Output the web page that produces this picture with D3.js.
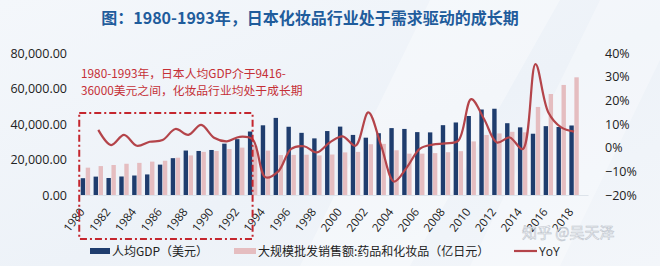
<!DOCTYPE html>
<html>
<head>
<meta charset="utf-8">
<script src="https://cdn.jsdelivr.net/npm/d3@7"></script>
<style>
  body { margin: 0; background: #fff; }
  svg { display: block; }
  text { font-family: "Noto Sans CJK SC", "Noto Sans", sans-serif; }
  .num { font-family: "Open Sans", "Noto Sans", sans-serif; }
</style>
</head>
<body>
<div id="chart"></div>
<script>
// data
var years = d3.range(1980, 2019).map(String);

// per-capita GDP, USD
var gdp = [9460, 10360, 9580, 10430, 10980, 11590, 17110, 20750, 25050, 24810,
  25360, 28930, 31470, 35770, 39270, 43440, 38440, 35020, 31900, 36030,
  38530, 33850, 32290, 34810, 37690, 37220, 35430, 35280, 39340, 40860,
  44510, 48170, 48600, 40450, 38110, 34520, 38790, 38330, 39160];

// wholesale sales: drugs & cosmetics, 100m JPY
var sales = [15400, 16300, 16900, 17600, 18100, 18800, 19300, 21000, 22300, 24300,
  24800, 25900, 26700, 27600, 25000, 22500, 22600, 22700, 22300, 22800,
  24000, 24300, 28600, 28800, 25200, 23300, 23300, 23600, 24100, 24700,
  30200, 33800, 34700, 35600, 35300, 49600, 56900, 62000, 66300];

// YoY of sales, 1981 - 2018
var yoyYears = d3.range(1981, 2019).map(String);
var yoy = [0.075, 0.011, 0.054, 0.008, 0.025, 0.032, 0.079, 0.054, 0.096, 0.042,
  0.027, 0.046, 0.035, -0.125, -0.100, -0.005, 0.006, -0.020, 0.022, 0.048,
  0.008, 0.149, 0.008, -0.143, -0.083, -0.005, 0.013, 0.018, 0.030, 0.205,
  0.121, 0.022, 0.043, -0.006, 0.353, 0.149, 0.086, 0.068];

var leftTicks = [0, 20000, 40000, 60000, 80000];
var rightTicks = [-0.2, -0.1, 0, 0.1, 0.2, 0.3, 0.4];
var xLabelYears = years.filter(function (d, i) { return i % 2 === 0; });

var title = "图：1980-1993年，日本化妆品行业处于需求驱动的成长期";
var note = ["1980-1993年，日本人均GDP介于9416-", "36000美元之间，化妆品行业均处于成长期"];

var W = 660, H = 266;
var top0 = 53, bottom0 = 195, left0 = 79, right0 = 580.5;

var svg = d3.select("#chart")
    .append("svg")
    .attr("width", W)
    .attr("height", H);

// background
var grad = svg.append("defs").append("linearGradient")
    .attr("id", "bg").attr("x1", "0").attr("y1", "0").attr("x2", "1").attr("y2", "1");
grad.append("stop").attr("offset", "0%").attr("stop-color", "#f4f7fb");
grad.append("stop").attr("offset", "55%").attr("stop-color", "#edf2f8");
grad.append("stop").attr("offset", "100%").attr("stop-color", "#f3f6fa");
svg.append("rect").attr("width", W).attr("height", H).attr("fill", "url(#bg)");
svg.append("polygon")
    .attr("points", "430,0 560,0 410,266 300,266")
    .attr("fill", "#ffffff").attr("opacity", 0.35);
svg.append("polygon")
    .attr("points", "600,0 660,0 660,60 560,266 470,266")
    .attr("fill", "#ffffff").attr("opacity", 0.3);

// scales
var x = d3.scaleBand()
    .domain(years)
    .range([left0, right0])
    .paddingInner(0.27)
    .paddingOuter(0.135);

var x1 = d3.scaleBand()
    .domain(["gdp", "sales"])
    .range([0, x.bandwidth()])
    .paddingInner(0.12);

var yLeft = d3.scaleLinear().domain([0, 80000]).range([bottom0, top0]);
var yRight = d3.scaleLinear().domain([-0.2, 0.4]).range([bottom0, top0]);

// title
svg.append("text")
    .attr("x", 310)
    .attr("y", 24)
    .attr("text-anchor", "middle")
    .attr("font-size", 16)
    .attr("font-weight", "bold")
    .attr("fill", "#1f5c9c")
    .text(title);

// left axis
svg.append("g")
    .attr("transform", "translate(" + (left0 - 12) + ",0)")
    .call(d3.axisLeft(yLeft).tickValues(leftTicks).tickSize(0).tickPadding(0)
        .tickFormat(function (d) { return d3.format(",.2f")(d); }))
    .call(function (g) { g.select(".domain").remove(); })
    .selectAll("text")
    .attr("font-size", 12.5)
    .attr("fill", "#222")
    .attr("class", "num");

// right axis
svg.append("g")
    .attr("transform", "translate(605,0)")
    .call(d3.axisRight(yRight).tickValues(rightTicks).tickSize(0).tickPadding(0)
        .tickFormat(d3.format(".0%")))
    .call(function (g) { g.select(".domain").remove(); })
    .selectAll("text")
    .attr("font-size", 12.5)
    .attr("fill", "#222")
    .attr("class", "num");

// baseline
svg.append("line")
    .attr("x1", left0).attr("x2", right0 + 8)
    .attr("y1", yLeft(0) + 0.5).attr("y2", yLeft(0) + 0.5)
    .attr("stroke", "#dde3ea");

// bars
var groups = svg.append("g").selectAll("g")
    .data(years)
    .enter().append("g")
    .attr("transform", function (d) { return "translate(" + x(d) + ",0)"; });

groups.append("rect")
    .attr("x", x1("gdp"))
    .attr("width", x1.bandwidth())
    .attr("y", function (d, i) { return yLeft(gdp[i]); })
    .attr("height", function (d, i) { return yLeft(0) - yLeft(gdp[i]); })
    .attr("fill", "#1f3d6e");

groups.append("rect")
    .attr("x", x1("sales"))
    .attr("width", x1.bandwidth())
    .attr("y", function (d, i) { return yLeft(sales[i]); })
    .attr("height", function (d, i) { return yLeft(0) - yLeft(sales[i]); })
    .attr("fill", "#e5bdc0");

// yoy line
var line = d3.line()
    .x(function (d, i) { return x(yoyYears[i]) + x.bandwidth() / 2; })
    .y(function (d) { return yRight(d); })
    .curve(d3.curveCatmullRom.alpha(0.5));

svg.append("path")
    .datum(yoy)
    .attr("fill", "none")
    .attr("stroke", "#b4444a")
    .attr("stroke-width", 2.2)
    .attr("d", line);

// x labels
svg.append("g").selectAll("text")
    .data(xLabelYears)
    .enter().append("text")
    .attr("class", "num")
    .attr("font-size", 11.5)
    .attr("fill", "#222")
    .attr("text-anchor", "end")
    .attr("transform", function (d) {
        return "translate(" + (x(d) + x.bandwidth() / 2) + ",212) rotate(-52)";
    })
    .text(function (d) { return d; });

// highlight box for 1980-1993
var bx0 = x("1980") - 1.5, bx1 = x("1993") + x.bandwidth() / 2;
svg.append("rect")
    .attr("x", bx0)
    .attr("y", 113)
    .attr("width", bx1 - bx0)
    .attr("height", 126)
    .attr("fill", "none")
    .attr("stroke", "#c4262e")
    .attr("stroke-width", 2)
    .attr("stroke-dasharray", "7,3,2,3");

// note text
svg.append("g").selectAll("text")
    .data(note)
    .enter().append("text")
    .attr("x", 81)
    .attr("y", function (d, i) { return 78 + i * 17; })
    .attr("font-size", 11.8)
    .attr("fill", "#c52f36")
    .text(function (d) { return d; });

// legend
var legend = svg.append("g");
legend.append("rect").attr("x", 90).attr("y", 248).attr("width", 20).attr("height", 6).attr("fill", "#1f3d6e");
legend.append("text").attr("x", 112).attr("y", 256).attr("font-size", 12).attr("fill", "#222").text("人均GDP（美元）");
legend.append("rect").attr("x", 234).attr("y", 248).attr("width", 22).attr("height", 6).attr("fill", "#e5bdc0");
legend.append("text").attr("x", 258).attr("y", 256).attr("font-size", 12).attr("fill", "#222").text("大规模批发销售额:药品和化妆品（亿日元）");
legend.append("line").attr("x1", 514).attr("x2", 537).attr("y1", 251).attr("y2", 251)
    .attr("stroke", "#b4444a").attr("stroke-width", 2.2);
legend.append("text").attr("x", 539).attr("y", 256).attr("font-size", 12).attr("fill", "#222")
    .attr("class", "num").text("YoY");

// watermark
svg.append("text")
    .attr("x", 522).attr("y", 238)
    .attr("font-size", 15)
    .attr("fill", "#ffffff")
    .attr("stroke", "#b9c0c9")
    .attr("stroke-width", 0.6)
    .attr("opacity", 0.9)
    .text("知乎 @吴天泽");
</script>
</body>
</html>
